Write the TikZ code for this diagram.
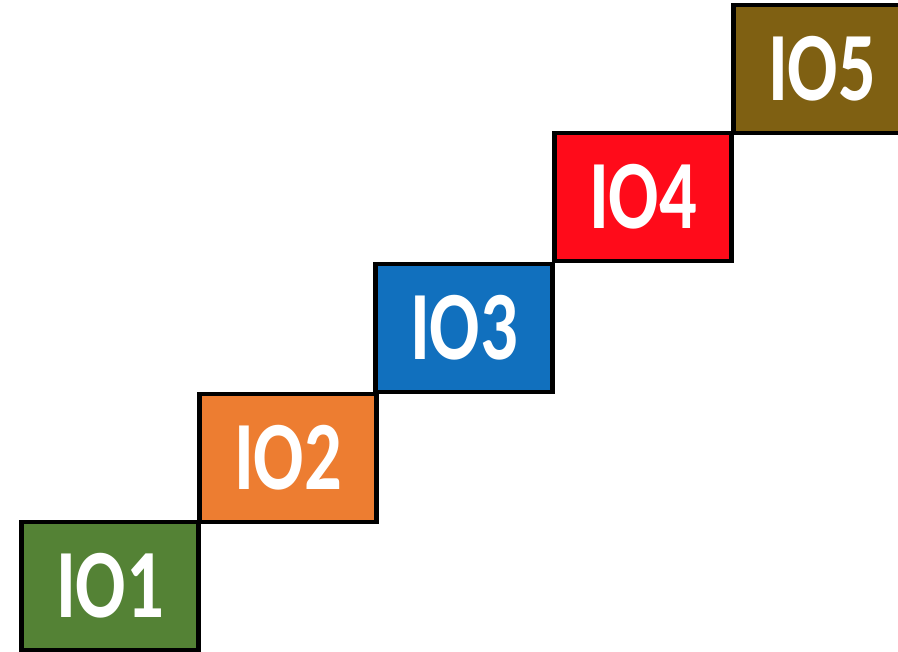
\documentclass[tikz,border=0pt]{standalone}
\usepackage{fontspec}
\setmainfont{Carlito}
\usetikzlibrary{positioning}
\definecolor{leaf}{HTML}{548235}
\definecolor{tangerine}{HTML}{ED7D31}
\definecolor{ocean}{HTML}{1170BE}
\definecolor{scarlet}{HTML}{FF0B1A}
\definecolor{bronze}{HTML}{7F6012}
\newcommand{\iotext}[1]{\scalebox{0.76}[1]{#1}}
\tikzset{
  iobox/.style={rectangle,draw=black,line width=4.5pt,minimum width=177pt,
    minimum height=128pt,inner sep=0pt,text=white,
    font=\fontsize{98}{98}\selectfont\bfseries},
}
\begin{document}
\begin{tikzpicture}[x=1pt,y=-1pt]
  \useasboundingbox (0,0) rectangle (898,652);
  \node[iobox,fill=leaf] (io1) at (110,586){\iotext{IO1}};
  \node[iobox,fill=tangerine] (io2) at (288,458){\iotext{IO2}};
  \node[iobox,fill=ocean] (io3) at (464,328){\iotext{IO3}};
  \node[iobox,fill=scarlet] (io4) at (643,197){\iotext{IO4}};
  \node[iobox,fill=bronze] (io5) at (822,69){\iotext{IO5}};
\end{tikzpicture}
\end{document}
